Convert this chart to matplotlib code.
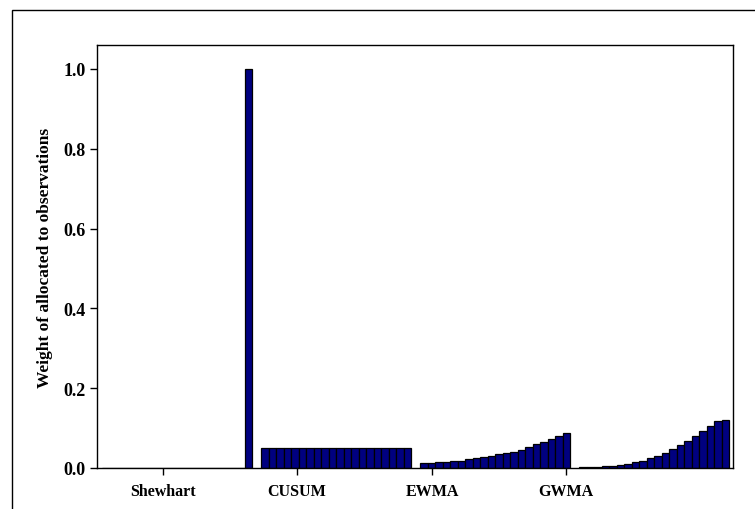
import matplotlib
matplotlib.use("Agg")
import matplotlib.pyplot as plt
from matplotlib.patches import Rectangle
import numpy as np

categories = ["Shewhart", "CUSUM", "EWMA", "GWMA"]
shewhart = [0.0] * 19 + [1.0]
cusum = [0.05] * 20
ewma = [0.0125, 0.0125, 0.015, 0.015, 0.018, 0.018, 0.022, 0.025, 0.028, 0.031,
        0.035, 0.038, 0.041, 0.045, 0.052, 0.059, 0.066, 0.073, 0.081, 0.088]
gwma = [0.0025, 0.0025, 0.0025, 0.005, 0.005, 0.008, 0.011, 0.014, 0.0175, 0.024,
        0.030, 0.0375, 0.0475, 0.057, 0.067, 0.080, 0.093, 0.106, 0.117, 0.120]
series = [shewhart, cusum, ewma, gwma]
yticks = [0.0, 0.2, 0.4, 0.6, 0.8, 1.0]
tick_positions = [7.6, 25.5, 43.5, 61.4]

plt.rcParams['font.family'] = ['Liberation Serif', 'DejaVu Serif']
plt.rcParams['font.weight'] = 'bold'

fig = plt.figure(figsize=(7.55, 5.10), dpi=100)
ax = fig.add_axes([97/755, 1-469/510, (733-97)/755, (469-46)/510])

group_pitch = 21.2
for g, vals in enumerate(series):
    x = g * group_pitch + np.arange(len(vals))
    ax.bar(x, vals, width=1.0, color='#000080', edgecolor='black', linewidth=0.9)

ax.set_xlim(-1.17, 83.63)
ax.set_ylim(0, 1.06)
ax.set_yticks(yticks)
ax.set_yticklabels([f"{v:.1f}" for v in yticks], fontsize=13, fontweight='bold')
ax.set_xticks(tick_positions)
ax.set_xticklabels(categories, fontsize=11.5, fontweight='bold')
ax.tick_params(axis='both', direction='out', length=5, width=1, colors='black')
ax.tick_params(axis='x', pad=6)
ax.tick_params(axis='y', pad=3)
ax.set_ylabel("Weight of allocated to observations", fontsize=12.5, fontweight='bold', labelpad=8)
for s in ax.spines.values():
    s.set_linewidth(1.0)
    s.set_color('black')

# outer frame of the figure
fig.patches.append(Rectangle((12/755, -0.1), 1.2, 1.1 - 11/510, transform=fig.transFigure,
                             fill=False, edgecolor='black', linewidth=1.0))

fig.savefig("out.png", dpi=100)
